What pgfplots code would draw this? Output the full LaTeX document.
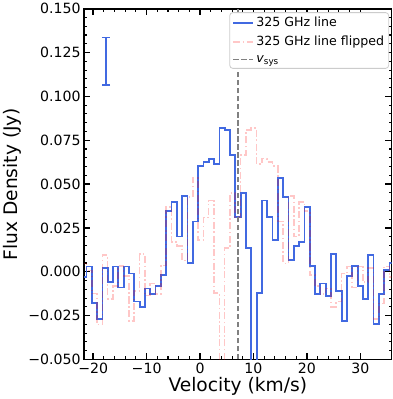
\documentclass[border=0pt]{standalone}
\usepackage{fontspec}
\setmainfont{DejaVu Sans}
\usepackage{pgfplots}
\pgfplotsset{compat=1.18}
\usepackage{pgfplotstable}

\definecolor{lineblue}{RGB}{65,105,225}

% 325 GHz spectrum, left channel edges (km/s) and flux (Jy)
\pgfplotstableread{
v f
-22.25 -0.0030
-21.25 0.0030
-20.26 -0.0180
-19.26 -0.0270
-18.27 0.0020
-17.27 -0.0060
-16.28 0.0030
-15.28 -0.0090
-14.29 0.0030
-13.29 -0.0010
-12.30 -0.0170
-11.30 -0.0200
-10.31 -0.0095
-9.31 -0.0128
-8.32 -0.0082
-7.32 -0.0019
-6.33 0.0345
-5.33 0.0397
-4.34 0.0201
-3.34 0.0431
-2.35 0.0048
-1.35 0.0287
-0.36 0.0602
0.64 0.0626
1.64 0.0645
2.63 0.0613
3.63 0.0818
4.62 0.0809
5.62 0.0665
6.61 0.0312
7.61 0.0448
8.60 0.0134
9.60 -0.0700
10.59 -0.0121
11.59 0.0406
12.58 0.0310
13.58 0.0180
14.57 0.0534
15.57 0.0425
16.56 0.0065
17.56 0.0148
18.55 0.0170
19.55 0.0368
20.54 0.0035
21.54 -0.0126
22.53 -0.0067
23.53 -0.0136
24.52 0.0100
25.52 -0.0110
26.51 -0.0280
27.51 -0.0025
28.50 0.0033
29.50 -0.0082
30.49 -0.0155
31.49 0.0096
32.48 -0.0300
33.48 -0.0125
34.47 0.0008
35.47 0.0048
36.46 0.0048
}\lineobs

% same spectrum mirrored about v_sys
\pgfplotstableread{
v f
-22.26 0.0048
-21.27 0.0008
-20.27 -0.0125
-19.28 -0.0300
-18.28 0.0096
-17.29 -0.0155
-16.29 -0.0082
-15.30 0.0033
-14.30 -0.0025
-13.31 -0.0280
-12.31 -0.0110
-11.32 0.0100
-10.32 -0.0136
-9.33 -0.0067
-8.33 -0.0126
-7.34 0.0035
-6.34 0.0368
-5.35 0.0170
-4.35 0.0148
-3.36 0.0065
-2.36 0.0425
-1.37 0.0534
-0.37 0.0180
0.63 0.0310
1.62 0.0406
2.62 -0.0121
3.61 -0.0700
4.61 0.0134
5.60 0.0448
6.60 0.0312
7.59 0.0665
8.59 0.0809
9.58 0.0818
10.58 0.0613
11.57 0.0645
12.57 0.0626
13.56 0.0602
14.56 0.0287
15.55 0.0048
16.55 0.0431
17.54 0.0201
18.54 0.0397
19.53 0.0345
20.53 -0.0019
21.52 -0.0082
22.52 -0.0128
23.51 -0.0095
24.51 -0.0200
25.50 -0.0170
26.50 -0.0010
27.49 0.0030
28.49 -0.0090
29.48 0.0030
30.48 -0.0060
31.47 0.0020
32.47 -0.0270
33.46 -0.0180
34.46 0.0030
35.45 -0.0030
36.45 -0.0030
}\lineflip

\begin{document}
\begin{tikzpicture}
\begin{axis}[
    scale only axis,
    width=305pt, height=348pt,
    xmin=-21.7, xmax=35.85,
    ymin=-0.05, ymax=0.15,
    xtick={-20,-10,0,10,20,30},
    xticklabels={−20,−10,0,10,20,30},
    ytick={-0.05,-0.025,0,0.025,0.05,0.075,0.1,0.125,0.15},
    yticklabels={−0.050,−0.025,0.000,0.025,0.050,0.075,0.100,0.125,0.150},
    minor x tick num=4, minor y tick num=4,
    tick align=inside,
    xtick pos=both, ytick pos=both,
    major tick length=6pt, minor tick length=3pt,
    every major tick/.append style={black, line width=1.4pt},
    every minor tick/.append style={black, line width=1.1pt},
    axis line style={line width=1.8pt},
    tick label style={font=\fontsize{14}{16}\selectfont},
    label style={font=\fontsize{18.5}{21}\selectfont},
    xlabel={Velocity (km/s)},
    ylabel={Flux Density (Jy)},
    xlabel style={yshift=3pt},
    legend cell align=left,
    legend image code/.code={\draw[#1] (0pt,0pt) -- (20pt,0pt);},
    legend style={at={(rel axis cs:0.992,0.99)}, anchor=north east,
        draw=black!20, line width=0.8pt, rounded corners=3pt,
        font=\fontsize{12.5}{15}\selectfont, inner sep=2.5pt,
        row sep=4pt},
]
\addplot[lineblue, line width=1.8pt, const plot] table[x=v, y=f] {\lineobs};
\addlegendentry{325 GHz line}
\addplot[red, opacity=0.22, line width=1.6pt, const plot,
    dash pattern=on 7pt off 2.5pt on 1.5pt off 2.5pt] table[x=v, y=f] {\lineflip};
\addlegendentry{325 GHz line flipped}
\addplot[gray, line width=1.6pt, dash pattern=on 5.5pt off 2.5pt] coordinates {(7.1,-0.05) (7.1,0.15)};
\addlegendentry{\textit{v}\textsubscript{sys}}
\addplot[draw=none, forget plot,
    error bars/.cd, y dir=both, y explicit,
    error bar style={lineblue, line width=1.6pt},
    error mark options={lineblue, rotate=90, mark size=4pt, line width=1.6pt}]
    coordinates {(-17.6,0.120) +- (0,0.0135)};
\end{axis}
\end{tikzpicture}
\end{document}
